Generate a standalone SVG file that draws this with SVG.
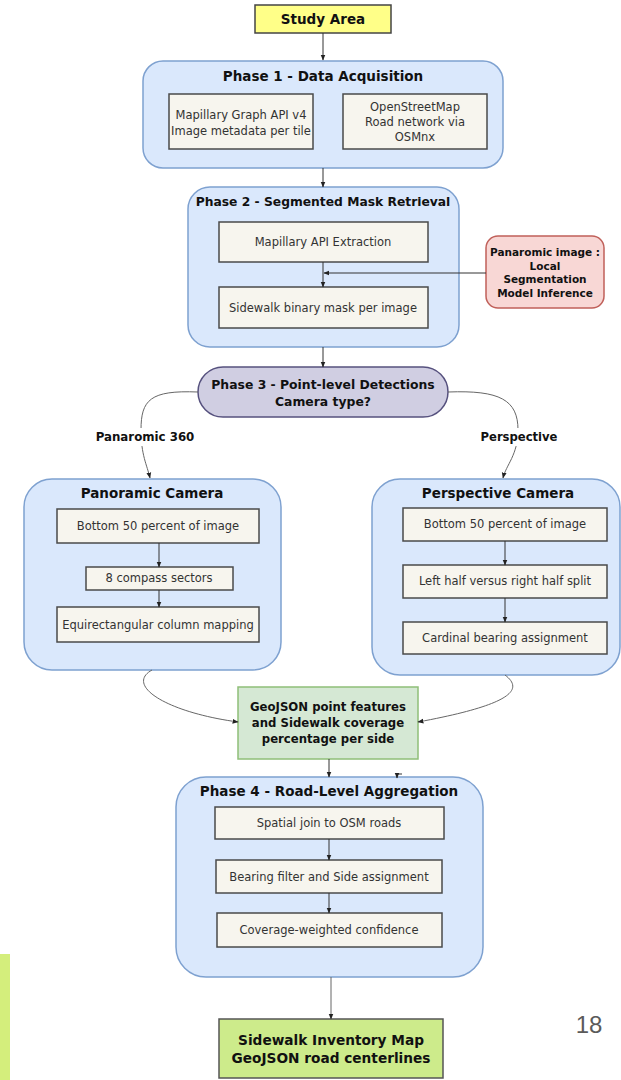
<svg xmlns="http://www.w3.org/2000/svg" width="621" height="1080" viewBox="0 0 621 1080">
<defs>
<marker id="ah" viewBox="0 0 10 10" refX="9" refY="5" markerWidth="6" markerHeight="6" markerUnits="userSpaceOnUse" orient="auto">
<path d="M0,1 L10,5 L0,9 z" fill="#222"/>
</marker>
<style>
.cont{fill:#dae8fc;stroke:#7ea1d0;stroke-width:1.5}
.box{fill:#f7f5ee;stroke:#4a4a4a;stroke-width:1.5}
.t{font-family:"DejaVu Sans",Verdana,sans-serif;font-size:11.5px;fill:#333;text-anchor:middle}
.h{font-family:"DejaVu Sans",Verdana,sans-serif;font-weight:bold;font-size:13.5px;fill:#111;text-anchor:middle}
.b{font-family:"DejaVu Sans",Verdana,sans-serif;font-weight:bold;fill:#111;text-anchor:middle}
.c{fill:none;stroke:#333;stroke-width:1}
.cv{fill:none;stroke:#666;stroke-width:1}
</style>
</defs>
<rect x="0" y="0" width="621" height="1080" fill="#ffffff"/>
<rect x="0" y="954" width="10" height="126" fill="#d4ee7c"/>
<text x="589" y="1033" font-family="'Liberation Sans',Arial,sans-serif" font-size="24" fill="#5a5a5a" text-anchor="middle">18</text>

<g id="study-area">
<rect x="255" y="5" width="136" height="28" fill="#ffff88" stroke="#444" stroke-width="1.5"/>
<text class="h" x="323" y="24">Study Area</text>
</g>

<g id="phase1">
<rect class="cont" x="143" y="61" width="360" height="107" rx="20"/>
<text class="h" x="323" y="81">Phase 1 - Data Acquisition</text>
<rect class="box" x="169" y="94" width="144" height="55"/>
<text class="t" x="241" y="119">Mapillary Graph API v4</text>
<text class="t" x="241" y="135">Image metadata per tile</text>
<rect class="box" x="343" y="94" width="144" height="55"/>
<text class="t" x="415" y="111">OpenStreetMap</text>
<text class="t" x="415" y="126">Road network via</text>
<text class="t" x="415" y="141">OSMnx</text>
</g>

<g id="phase2">
<rect class="cont" x="188" y="187" width="271" height="160" rx="22"/>
<text class="b" font-size="12.3" x="323" y="206">Phase 2 - Segmented Mask Retrieval</text>
<rect class="box" x="219" y="222" width="209" height="40"/>
<text class="t" x="323" y="246">Mapillary API Extraction</text>
<rect class="box" x="219" y="287" width="209" height="41"/>
<text class="t" x="323" y="312">Sidewalk binary mask per image</text>
</g>

<g id="panoramic-inference">
<rect x="486" y="236" width="118" height="72" rx="12" fill="#f8d7d5" stroke="#c0605a" stroke-width="1.5"/>
<text class="b" font-size="10.5" x="545" y="256">Panaromic image :</text>
<text class="b" font-size="10.5" x="545" y="270">Local</text>
<text class="b" font-size="10.5" x="545" y="283">Segmentation</text>
<text class="b" font-size="10.5" x="545" y="297">Model Inference</text>
</g>

<g id="phase3">
<rect x="198" y="367" width="250" height="50" rx="25" fill="#d0cee2" stroke="#56517e" stroke-width="1.5"/>
<text class="b" font-size="12.4" x="323" y="389">Phase 3 - Point-level Detections</text>
<text class="b" font-size="12.4" x="323" y="406">Camera type?</text>
</g>

<g id="panoramic-camera">
<rect class="cont" x="24" y="479" width="257" height="191" rx="28"/>
<text class="h" x="152" y="498">Panoramic Camera</text>
<rect class="box" x="57" y="509" width="202" height="34"/>
<text class="t" x="158" y="530">Bottom 50 percent of image</text>
<rect class="box" x="86" y="567" width="147" height="23"/>
<text class="t" x="159" y="582">8 compass sectors</text>
<rect class="box" x="57" y="607" width="202" height="35"/>
<text class="t" x="158" y="629">Equirectangular column mapping</text>
</g>

<g id="perspective-camera">
<rect class="cont" x="372" y="479" width="248" height="196" rx="28"/>
<text class="h" x="498" y="498">Perspective Camera</text>
<rect class="box" x="403" y="508" width="204" height="33"/>
<text class="t" x="505" y="528">Bottom 50 percent of image</text>
<rect class="box" x="403" y="565" width="204" height="33"/>
<text class="t" x="505" y="585">Left half versus right half split</text>
<rect class="box" x="403" y="622" width="204" height="32"/>
<text class="t" x="505" y="642">Cardinal bearing assignment</text>
</g>

<g id="geojson-points">
<rect x="238" y="687" width="180" height="72" fill="#d5e8d4" stroke="#8fbf78" stroke-width="1.5"/>
<text class="b" font-size="11.7" x="328" y="711">GeoJSON point features</text>
<text class="b" font-size="11.7" x="328" y="727">and Sidewalk coverage</text>
<text class="b" font-size="11.7" x="328" y="743">percentage per side</text>
</g>

<g id="phase4">
<rect class="cont" x="176" y="777" width="307" height="200" rx="30"/>
<text class="h" x="329" y="796">Phase 4 - Road-Level Aggregation</text>
<rect class="box" x="215" y="807" width="229" height="32"/>
<text class="t" x="329" y="827">Spatial join to OSM roads</text>
<rect class="box" x="216" y="860" width="226" height="33"/>
<text class="t" x="329" y="881">Bearing filter and Side assignment</text>
<rect class="box" x="217" y="913" width="225" height="34"/>
<text class="t" x="329" y="934">Coverage-weighted confidence</text>
</g>

<g id="sidewalk-inventory">
<rect x="219" y="1019" width="224" height="59" fill="#cdeb8b" stroke="#555" stroke-width="1.5"/>
<text class="b" font-size="13.7" x="331" y="1045">Sidewalk Inventory Map</text>
<text class="b" font-size="13.7" x="331" y="1063">GeoJSON road centerlines</text>
</g>

<g id="connectors">
<path class="c" d="M323,33 L323,60" marker-end="url(#ah)"/>
<path class="c" d="M323,168 L323,187" marker-end="url(#ah)"/>
<path class="c" d="M323,262 L323,287" marker-end="url(#ah)"/>
<path class="c" d="M486,273 L324,273" marker-end="url(#ah)"/>
<path class="c" d="M323,347 L323,367" marker-end="url(#ah)"/>
<path class="cv" d="M198,392 C150,390 141,400 141,430 C141,455 147,465 150,478" marker-end="url(#ah)"/>
<path class="cv" d="M448,392 C500,390 518,400 518,430 C518,455 506,465 503,478" marker-end="url(#ah)"/>
<path class="c" d="M159,543 L159,567" marker-end="url(#ah)"/>
<path class="c" d="M159,590 L159,607" marker-end="url(#ah)"/>
<path class="c" d="M505,541 L505,565" marker-end="url(#ah)"/>
<path class="c" d="M505,598 L505,622" marker-end="url(#ah)"/>
<path class="cv" d="M152,670 C125,685 165,712 238,722" marker-end="url(#ah)"/>
<path class="cv" d="M505,675 C525,690 510,705 418,722" marker-end="url(#ah)"/>
<path class="c" d="M329,759 L329,777" marker-end="url(#ah)"/>
<path class="c" d="M402,774 L397,774 L397,778" marker-end="url(#ah)"/>
<path class="c" d="M329,839 L329,860" marker-end="url(#ah)"/>
<path class="c" d="M329,893 L329,913" marker-end="url(#ah)"/>
<path class="cv" d="M331,977 L331,1019" marker-end="url(#ah)"/>
<rect x="96" y="428" width="98" height="18" fill="#fff"/>
<rect x="478" y="428" width="82" height="18" fill="#fff"/>
<text class="b" font-size="11.8" x="145" y="441">Panaromic 360</text>
<text class="b" font-size="11.6" x="519" y="441">Perspective</text>
</g>
</svg>
